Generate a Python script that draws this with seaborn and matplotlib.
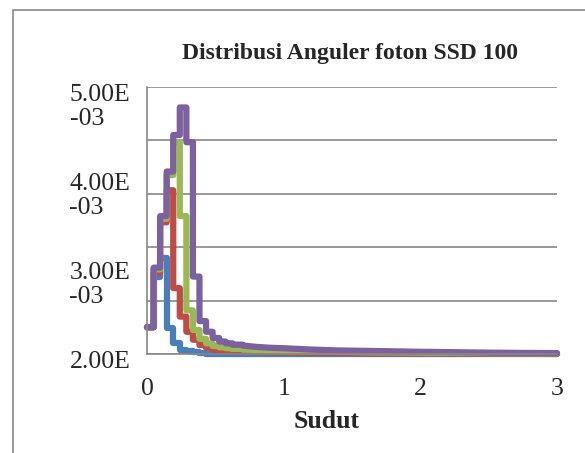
import numpy as np
import pandas as pd
import seaborn as sns
import matplotlib.pyplot as plt
from matplotlib.patches import Rectangle
from matplotlib.transforms import ScaledTranslation

# sudut (rad): awal tiap bin, lalu ekor distribusi
sudut = [0, 0.048, 0.096, 0.144, 0.192, 0.24, 0.288, 0.336, 0.384, 0.432, 0.48, 0.528,
         0.576, 0.624, 0.7, 0.8, 0.9, 1.0, 1.2, 1.4, 1.6, 1.8, 2.0, 2.25, 2.5, 2.75, 3.0]
n_bin = 14  # titik pertama yang berupa bin (tangga), sisanya ekor halus

# nilai dalam satuan 1e-3
seri_biru = [2.30, 2.87, 3.08, 2.29, 2.12, 2.05, 2.03, 2.02, 2.01, 2.005, 2.0, 1.998, 1.997,
             1.996, 1.995, 1.995, 1.995, 1.995, 1.995, 1.995, 1.995, 1.995, 1.995, 1.995,
             1.995, 1.995, 1.995]
seri_merah = [2.30, 2.91, 3.48, 3.84, 2.74, 2.42, 2.25, 2.16, 2.10, 2.07, 2.05, 2.04, 2.035,
              2.03, 2.025, 2.02, 2.018, 2.015, 2.012, 2.01, 2.008, 2.006, 2.005, 2.004,
              2.003, 2.002, 2.0]
seri_hijau = [2.30, 2.95, 3.52, 4.01, 4.38, 3.55, 2.49, 2.27, 2.17, 2.12, 2.09, 2.075, 2.065,
              2.058, 2.05, 2.045, 2.04, 2.035, 2.03, 2.025, 2.02, 2.018, 2.015, 2.012,
              2.01, 2.008, 2.005]
seri_ungu = [2.30, 2.97, 3.55, 4.05, 4.46, 4.77, 4.38, 2.87, 2.37, 2.25, 2.18, 2.14, 2.12,
             2.105, 2.095, 2.08, 2.07, 2.065, 2.05, 2.04, 2.035, 2.03, 2.025, 2.02,
             2.015, 2.012, 2.01]

nama_seri = ['biru', 'merah', 'hijau', 'ungu']
semua_seri = [seri_biru, seri_merah, seri_hijau, seri_ungu]
warna = {'biru': '#4A7EBB', 'merah': '#BE4B48', 'hijau': '#98B954', 'ungu': '#7D60A0'}

ytick_vals = [2e-3, 3e-3, 4e-3, 5e-3]
ytick_labels = ['2.00E', '3.00E\n-03', '4.00E\n-03', '5.00E\n-03']
xtick_vals = [0, 1, 2, 3]


def ke_tangga(x, y):
    # bin histogram jadi tangga, ekor disambung lurus
    xs, ys = [], []
    for i in range(n_bin):
        xs += [x[i], x[i + 1]]
        ys += [y[i], y[i]]
    xs += x[n_bin:]
    ys += y[n_bin:]
    return xs, ys


rows = []
for nama, seri in zip(nama_seri, semua_seri):
    xs, ys = ke_tangga(sudut, seri)
    rows.append(pd.DataFrame({'sudut': xs, 'nilai': np.array(ys) * 1e-3, 'seri': nama}))
df = pd.concat(rows, ignore_index=True)

sns.set_style('white')
plt.rcParams['font.family'] = ['Liberation Serif', 'DejaVu Serif']

fig = plt.figure(figsize=(5.85, 4.53), dpi=100)
ax = fig.add_axes([147 / 585, 99 / 453, 410 / 585, 267 / 453])

# garis grid Excel (6 garis)
for g in np.linspace(2e-3, 5e-3, 6):
    ax.axhline(g, color='#878787', lw=1.2, zorder=0.5)

sns.lineplot(data=df, x='sudut', y='nilai', hue='seri', hue_order=nama_seri,
             palette=warna, legend=False, estimator=None, sort=False,
             lw=4.5, solid_joinstyle='round', solid_capstyle='round', clip_on=False, ax=ax)

ax.set_xlim(0, 3)
ax.set_ylim(2e-3, 5e-3)
ax.grid(False)
ax.tick_params(which='both', length=0)
ax.tick_params(axis='x', pad=17)
ax.tick_params(axis='y', pad=12)
ax.set_xticks(xtick_vals)
ax.set_xticklabels([str(v) for v in xtick_vals], fontsize=18.5)
ax.set_yticks(ytick_vals)
ax.set_yticklabels(ytick_labels, fontsize=18.5)
geser = ScaledTranslation(0, 3 / 100, fig.dpi_scale_trans)
for lab in ax.get_yticklabels():
    lab.set_multialignment('left')
    lab.set_va('top')
    lab.set_linespacing(1.1)
    lab.set_transform(lab.get_transform() + geser)

for s in ['top', 'right']:
    ax.spines[s].set_visible(False)
for s in ['left', 'bottom']:
    ax.spines[s].set_color('#878787')
    ax.spines[s].set_linewidth(1.2)

ax.set_xlabel('Sudut', fontsize=18.5, fontweight='bold', va='center')
ax.xaxis.set_label_coords((327 - 147) / 410, (354 - 422) / 267)
ax.set_ylabel('')

fig.text(350 / 585, 1 - 53 / 453, 'Distribusi Anguler foton SSD 100',
         ha='center', va='center', fontsize=17, fontweight='bold')

fig.add_artist(Rectangle((12.5 / 585, -0.05), 1.1, (453 - 10.5) / 453 + 0.05,
                         transform=fig.transFigure, fill=False, ec='#878787', lw=1.2))

fig.savefig('out.png', dpi=100)
